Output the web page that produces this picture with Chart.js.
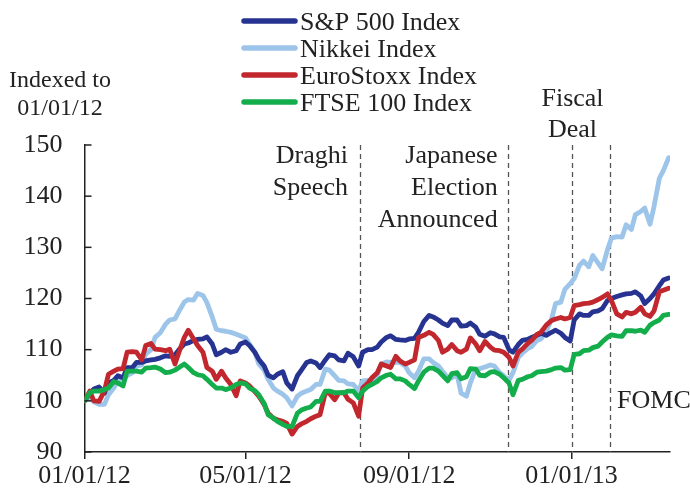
<!DOCTYPE html>
<html>
<head>
<meta charset="utf-8">
<script src="https://cdn.jsdelivr.net/npm/chart.js@4.4.1/dist/chart.umd.min.js"></script>
<style>
  html, body { margin: 0; padding: 0; background: #fff; }
</style>
</head>
<body>
<canvas id="chart" width="690" height="497"></canvas>
<script>
// days since 01/01/12 (about twice a week)
const days = [
  0, 4, 7, 11, 15, 18, 22, 25, 29, 32,
  36, 39, 43, 46, 50, 53, 57, 61, 64, 68,
  71, 75, 78, 82, 85, 89, 92, 96, 99, 103,
  106, 110, 114, 117, 121, 124, 128, 131, 135, 138,
  142, 145, 149, 152, 156, 160, 163, 167, 170, 174,
  177, 181, 184, 188, 191, 195, 198, 202, 206, 209,
  213, 216, 220, 223, 227, 230, 234, 237, 241, 244,
  248, 251, 255, 259, 262, 266, 269, 273, 276, 280,
  283, 287, 290, 294, 297, 301, 305, 308, 312, 315,
  319, 322, 326, 329, 333, 336, 340, 343, 347, 351,
  354, 358, 361, 365, 368, 372, 375, 379, 382, 386,
  389, 393, 396, 400, 404, 407, 411, 414, 418, 421,
  425, 428, 432, 435, 439
];

const sp500 = [
  100, 101.5, 102.3, 102.7, 101.5, 103.5, 104.0, 104.9, 104.5, 106.5,
  106.5, 107.5, 107.5, 107.8, 108.0, 108.1, 108.4, 108.8, 108.7, 109.0,
  110.0, 111.1, 111.3, 111.8, 112.0, 112.1, 112.5, 111.1, 109.0, 109.5,
  110.0, 109.5, 109.8, 111.1, 111.5, 110.8, 109.5, 108.1, 106.8, 105.0,
  104.5, 105.2, 105.7, 103.5, 102.3, 104.9, 106.0, 107.5, 107.8, 107.4,
  106.5, 108.0, 109.0, 108.8, 108.0, 107.8, 109.3, 108.6, 106.8, 109.5,
  110.0, 110.0, 110.5, 111.5, 112.4, 112.7, 112.0, 111.9, 111.8, 112.1,
  112.2, 113.4, 115.5, 116.7, 116.4, 115.8, 115.2, 114.7, 115.8, 115.8,
  114.6, 114.7, 115.2, 114.4, 113.0, 112.6, 113.3, 113.1, 112.5, 112.4,
  110.0, 109.5, 111.0, 111.8, 112.0, 112.4, 112.8, 113.2, 112.8, 113.4,
  113.8, 113.2, 112.4, 111.7, 115.8, 117.0, 116.7, 116.7, 117.4, 117.6,
  118.0, 119.6, 120.0, 120.4, 120.7, 120.9, 121.0, 121.3, 120.5, 119.0,
  120.0, 120.9, 122.5, 123.6, 124.0
];

const nikkei = [
  100, 100.6, 99.8, 99.3, 99.3, 101.2, 102.5, 103.9, 104.5, 104.9,
  105.5, 106.8, 107.0, 109.1, 110.0, 112.4, 113.3, 115.0, 115.8, 116.0,
  117.5, 119.3, 119.8, 119.7, 121.0, 120.6, 119.2, 116.4, 114.0, 113.7,
  113.6, 113.4, 113.0, 112.7, 112.3, 111.1, 109.5, 107.2, 106.0, 104.2,
  102.5, 101.9, 101.3, 100.6, 99.0, 100.9, 101.5, 101.9, 102.2, 103.2,
  103.2, 106.2, 106.0, 104.9, 104.0, 103.9, 103.3, 103.2, 102.0, 103.9,
  104.0, 103.9, 105.0, 107.2, 107.6, 107.5, 107.5, 107.5, 106.8, 105.5,
  104.5, 105.8, 108.2, 108.2, 107.5, 106.8, 105.8, 104.5, 104.5, 105.1,
  101.5, 100.9, 103.5, 106.2, 106.3, 106.6, 107.0, 106.8, 105.5, 104.9,
  104.0, 105.5, 108.5, 109.3, 110.2, 110.6, 111.8, 112.1, 113.5, 116.0,
  119.0, 119.3, 121.8, 122.9, 123.9, 126.5, 127.3, 126.2, 128.4, 126.9,
  125.8, 129.5, 131.8, 132.1, 132.0, 134.4, 133.5, 136.4, 137.0, 137.7,
  134.5, 138.0, 143.5, 145.0, 147.5
];

const eurostoxx = [
  100, 101.9, 100.0, 99.9, 102.0, 105.2, 105.8, 106.2, 106.3, 109.5,
  109.6, 109.5, 108.0, 110.8, 111.2, 110.1, 110.0, 109.8, 110.1, 107.2,
  109.5, 112.4, 113.8, 112.1, 110.8, 109.5, 106.5, 105.8, 104.2, 105.8,
  104.5, 103.2, 101.0, 103.9, 103.5, 102.9, 101.8, 100.9, 99.3, 97.6,
  96.6, 96.3, 96.0, 95.6, 93.5, 95.0, 95.5, 96.0, 96.5, 97.0,
  97.3, 101.6, 101.5, 100.2, 101.5, 101.6, 100.3, 99.6, 97.0, 102.5,
  103.5, 104.5, 105.5, 107.2, 106.8, 106.5, 108.7, 107.8, 107.2, 107.5,
  108.0, 112.4, 112.8, 113.4, 113.0, 111.8, 109.5, 110.1, 111.0, 109.8,
  109.5, 110.1, 112.3, 111.1, 109.8, 111.6, 110.5, 109.9, 109.8, 109.5,
  108.5, 106.8, 109.5, 110.1, 111.2, 111.8, 113.0, 113.4, 114.8, 115.7,
  116.0, 116.3, 116.0, 116.3, 118.6, 118.8, 119.0, 119.1, 119.3, 119.8,
  120.2, 120.9, 119.6, 117.0, 116.4, 117.3, 117.0, 117.3, 118.3, 117.0,
  116.5, 117.6, 121.3, 121.6, 122.0
];

const ftse = [
  100, 101.6, 101.9, 101.9, 102.2, 102.5, 103.8, 103.5, 102.9, 105.8,
  105.8, 105.8, 105.6, 106.4, 106.5, 106.6, 106.2, 105.5, 105.6, 106.0,
  106.5, 107.2, 106.5, 105.5, 105.1, 104.9, 104.2, 103.2, 102.5, 102.5,
  102.2, 102.5, 103.2, 103.5, 103.3, 102.5, 102.0, 101.2, 99.5, 97.3,
  96.6, 96.0, 95.4, 95.0, 95.0, 97.6, 98.2, 98.6, 98.8, 99.9,
  99.9, 101.9, 101.9, 101.6, 101.6, 101.6, 101.9, 101.9, 100.6, 101.9,
  102.8, 103.2, 103.8, 104.5, 105.0, 105.2, 104.3, 104.3, 103.9, 103.2,
  102.4, 103.9, 105.6, 106.4, 106.4, 105.8, 105.0, 103.9, 105.3, 105.5,
  104.3, 104.7, 106.3, 106.2, 105.0, 104.9, 105.6, 105.7, 105.2, 104.5,
  103.5, 101.2, 104.0, 104.2, 104.7, 104.9, 105.6, 105.7, 105.8, 106.1,
  106.4, 106.5, 106.0, 106.1, 109.1, 109.2, 109.8, 109.9, 110.4, 110.7,
  111.5, 112.4, 112.9, 112.7, 112.6, 113.7, 113.7, 113.6, 113.8, 113.4,
  114.8, 115.3, 115.8, 116.7, 116.9
];

const tickDays = [0, 121, 244, 366];
const tickLabels = ['01/01/12', '05/01/12', '09/01/12', '01/01/13'];

// Draghi speech, Japanese election announced, fiscal deal, FOMC
const eventDays = [207, 318, 366, 395];
const eventLabels = [['Draghi', 'Speech'], ['Japanese', 'Election', 'Announced'], ['Fiscal', 'Deal'], ['FOMC']];

const SERIF = "'Liberation Serif', 'Times New Roman', serif";
const INK = '#222';

function series(label, values, color, order) {
  return {
    label,
    data: values.map((v, i) => ({ x: days[i], y: v })),
    borderColor: color,
    backgroundColor: color,
    borderWidth: 4.8,
    pointRadius: 0,
    tension: 0,
    borderJoinStyle: 'round',
    borderCapStyle: 'round',
    order
  };
}

// dashed event lines, labels, legend, axis title, inward y ticks
const overlay = {
  id: 'overlay',
  beforeDatasetsDraw(chart) {
    const { ctx, chartArea: a, scales: { x } } = chart;
    ctx.save();
    ctx.strokeStyle = '#555';
    ctx.lineWidth = 1.3;
    ctx.setLineDash([5, 4]);
    eventDays.forEach(d => {
      const px = Math.round(x.getPixelForValue(d)) + 0.5;
      ctx.beginPath();
      ctx.moveTo(px, a.top);
      ctx.lineTo(px, a.bottom);
      ctx.stroke();
    });
    ctx.restore();
  },
  afterDraw(chart) {
    const { ctx, chartArea: a, scales: { x, y } } = chart;
    ctx.save();

    ctx.strokeStyle = INK;
    ctx.lineWidth = 1.5;
    y.ticks.forEach(t => {
      const py = y.getPixelForValue(t.value);
      ctx.beginPath();
      ctx.moveTo(a.left, py);
      ctx.lineTo(a.left + 7, py);
      ctx.stroke();
    });

    ctx.fillStyle = INK;
    ctx.font = '26px ' + SERIF;
    const ex = eventDays.map(d => x.getPixelForValue(d));
    ctx.textAlign = 'right';
    eventLabels[0].forEach((s, i) => ctx.fillText(s, ex[0] - 12, 163 + i * 32));
    eventLabels[1].forEach((s, i) => ctx.fillText(s, ex[1] - 10, 163 + i * 32));
    ctx.textAlign = 'center';
    eventLabels[2].forEach((s, i) => ctx.fillText(s, ex[2] + 1, 106 + i * 31));
    ctx.textAlign = 'left';
    eventLabels[3].forEach((s, i) => ctx.fillText(s, ex[3] + 7, 408 + i * 31));

    ctx.textAlign = 'center';
    ctx.font = '24px ' + SERIF;
    ctx.fillText('Indexed to', 60, 87);
    ctx.fillText('01/01/12', 60, 115);

    // legend, one entry per row
    ctx.font = '26px ' + SERIF;
    ctx.textAlign = 'left';
    ctx.lineCap = 'round';
    chart.data.datasets.forEach((ds, i) => {
      const ry = 21 + i * 27;
      ctx.strokeStyle = ds.borderColor;
      ctx.lineWidth = 5.5;
      ctx.beginPath();
      ctx.moveTo(244, ry);
      ctx.lineTo(295, ry);
      ctx.stroke();
      ctx.fillStyle = INK;
      ctx.fillText(ds.label, 300, ry + 9);
    });
    ctx.restore();
  }
};

new Chart(document.getElementById('chart'), {
  type: 'line',
  data: {
    datasets: [
      series('S&P 500 Index', sp500, '#263391', 2),
      series('Nikkei Index', nikkei, '#9dc5ea', 3),
      series('EuroStoxx Index', eurostoxx, '#c1272d', 1),
      series('FTSE 100 Index', ftse, '#13ad4b', 0)
    ]
  },
  options: {
    responsive: false,
    animation: false,
    devicePixelRatio: 1,
    layout: { padding: { top: 145, right: 20, left: 0, bottom: 0 } },
    plugins: { legend: { display: false }, tooltip: { enabled: false } },
    scales: {
      x: {
        type: 'linear',
        min: 0,
        max: 440,
        afterBuildTicks: s => { s.ticks = tickDays.map(v => ({ value: v })); },
        afterFit: s => { s.height = 45; },
        ticks: {
          autoSkip: false,
          maxRotation: 0,
          padding: 2,
          color: INK,
          font: { family: SERIF, size: 26 },
          callback: (v, i) => tickLabels[i]
        },
        grid: { drawOnChartArea: false, tickLength: 7, color: INK, lineWidth: 1.5 },
        border: { color: INK, width: 1.5 }
      },
      y: {
        min: 90,
        max: 150,
        afterFit: s => { s.width = 84.5; },
        ticks: {
          stepSize: 10,
          padding: 22,
          color: INK,
          font: { family: SERIF, size: 26 }
        },
        grid: { drawOnChartArea: false, drawTicks: false },
        border: { color: INK, width: 1.5 }
      }
    }
  },
  plugins: [overlay]
});
</script>
</body>
</html>
